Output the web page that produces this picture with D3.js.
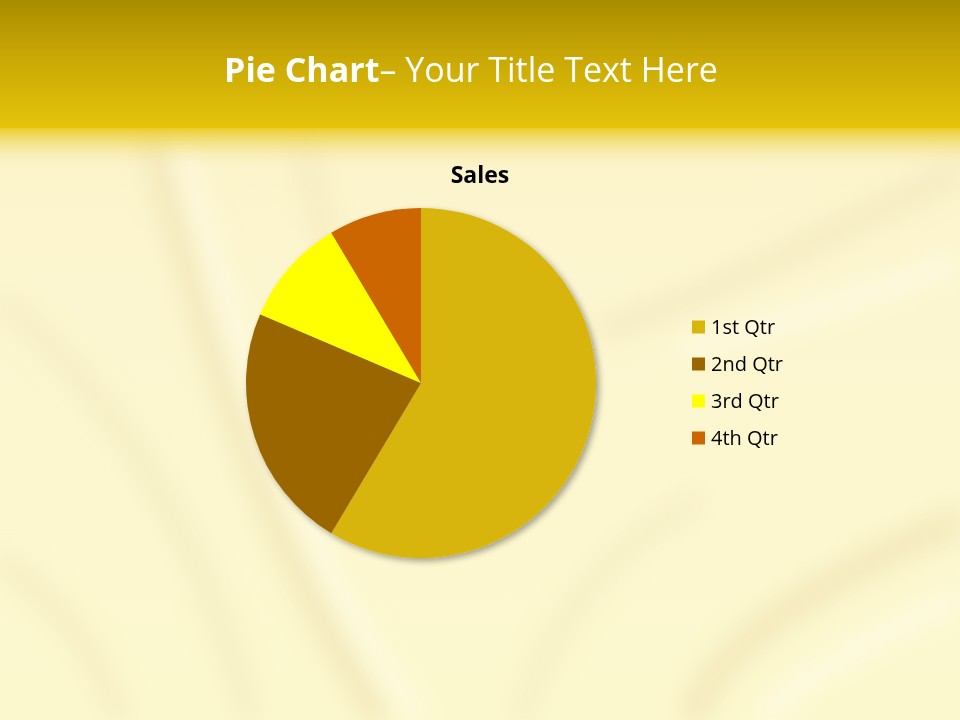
<!DOCTYPE html>
<html><head><meta charset="utf-8">
<script src="https://cdn.jsdelivr.net/npm/d3@7"></script>
<style>html,body{margin:0;padding:0;background:#faf4c8;}svg{display:block;}</style>
</head><body>
<script>
const categories = ["1st Qtr", "2nd Qtr", "3rd Qtr", "4th Qtr"];
const sales = [8.2, 3.2, 1.4, 1.2];
const colors = ["#D7B50B", "#996600", "#FFFF00", "#CC6600"];
const chartTitle = "Sales";

const W = 960, H = 720;
const svg = d3.select("body").append("svg").attr("width", W).attr("height", H);
const defs = svg.append("defs");

// background
const bg = defs.append("linearGradient").attr("id","bg").attr("x1",0).attr("y1",0).attr("x2",0).attr("y2",1);
bg.append("stop").attr("offset","0%").attr("stop-color","#FBF1C4");
bg.append("stop").attr("offset","40%").attr("stop-color","#FCF6D0");
bg.append("stop").attr("offset","100%").attr("stop-color","#FCF8CE");
svg.append("rect").attr("width",W).attr("height",H).attr("fill","url(#bg)");

const blur = defs.append("filter").attr("id","blur").attr("x","-20%").attr("y","-20%").attr("width","140%").attr("height","140%");
blur.append("feGaussianBlur").attr("stdDeviation",12);
const folds = svg.append("g").attr("filter","url(#blur)").attr("fill","none");
const foldPaths = [
  ["M150,130 C200,300 240,500 380,720", "#EFE3B4", 24],
  ["M0,300 C100,380 200,520 250,720", "#F2E8BE", 18],
  ["M960,170 C820,240 700,300 600,330", "#F1E6BA", 20],
  ["M960,520 C820,580 720,640 690,720", "#EFE1B4", 26],
  ["M520,720 C560,600 620,540 700,500", "#F3EAC0", 18],
  ["M0,560 C60,600 100,660 120,720", "#F2E6BC", 16],
  ["M300,140 C320,200 330,260 340,300", "#F2E6BA", 16]
];
foldPaths.forEach(([d,c,w]) => folds.append("path").attr("d",d).attr("stroke",c).attr("stroke-width",w).attr("opacity",0.7));
const hl = svg.append("g").attr("filter","url(#blur)").attr("fill","none");
[["M180,140 C230,320 280,520 420,720", 14],["M960,600 C860,640 800,680 760,720",16],["M960,260 C860,300 760,330 680,350",14]]
  .forEach(([d,w]) => hl.append("path").attr("d",d).attr("stroke","#FFFDEA").attr("stroke-width",w).attr("opacity",0.9));

// header band
const hg = defs.append("linearGradient").attr("id","hg").attr("x1",0).attr("y1",0).attr("x2",0).attr("y2",1);
hg.append("stop").attr("offset","0%").attr("stop-color","#A88C00");
hg.append("stop").attr("offset","45%").attr("stop-color","#C9A805");
hg.append("stop").attr("offset","100%").attr("stop-color","#E5C40A");
svg.append("rect").attr("width",W).attr("height",128).attr("fill","url(#hg)");
const fade = defs.append("linearGradient").attr("id","fade").attr("x1",0).attr("y1",0).attr("x2",0).attr("y2",1);
fade.append("stop").attr("offset","0%").attr("stop-color","#E8C81A").attr("stop-opacity",0.9);
fade.append("stop").attr("offset","100%").attr("stop-color","#F8EDB8").attr("stop-opacity",0);
svg.append("rect").attr("y",128).attr("width",W).attr("height",40).attr("fill","url(#fade)");

const title = svg.append("text").attr("x",471).attr("y",82).attr("text-anchor","middle")
  .attr("font-family","'Open Sans', Lato, sans-serif").attr("font-size",34).attr("fill","#fff");
title.append("tspan").attr("font-weight","bold").text("Pie Chart");
title.append("tspan").text("– Your Title Text Here");

svg.append("text").attr("x",480).attr("y",183).attr("text-anchor","middle")
  .attr("font-family","'Open Sans', Lato, sans-serif").attr("font-weight","bold").attr("font-size",23).attr("fill","#000")
  .text(chartTitle);

// pie
const cx = 421, cy = 383, R = 175;
const sh = defs.append("filter").attr("id","shadow").attr("x","-20%").attr("y","-20%").attr("width","140%").attr("height","140%");
sh.append("feGaussianBlur").attr("in","SourceAlpha").attr("stdDeviation",3);
sh.append("feOffset").attr("dx",3).attr("dy",3).attr("result","b");
sh.append("feFlood").attr("flood-color","#000").attr("flood-opacity",0.35);
sh.append("feComposite").attr("in2","b").attr("operator","in");
const m = sh.append("feMerge"); m.append("feMergeNode"); m.append("feMergeNode").attr("in","SourceGraphic");

const pie = d3.pie().sort(null).value(d => d)(sales);
const arc = d3.arc().innerRadius(0).outerRadius(R);
const color = d3.scaleOrdinal().domain(categories).range(colors);
const pg = svg.append("g").attr("transform",`translate(${cx},${cy})`).attr("filter","url(#shadow)");
pg.selectAll("path").data(pie).join("path").attr("d",arc).attr("fill",(d,i)=>color(categories[i]));

// legend
const lg = svg.append("g").attr("font-family","'Open Sans', Lato, sans-serif").attr("font-size",20);
const ly = d3.scalePoint().domain(categories).range([327,438]);
categories.forEach(c => {
  lg.append("rect").attr("x",692).attr("y",ly(c)-6.5).attr("width",13).attr("height",13).attr("fill",color(c));
  lg.append("text").attr("x",711).attr("y",ly(c)+7).attr("fill","#000").text(c);
});
</script>
</body></html>
